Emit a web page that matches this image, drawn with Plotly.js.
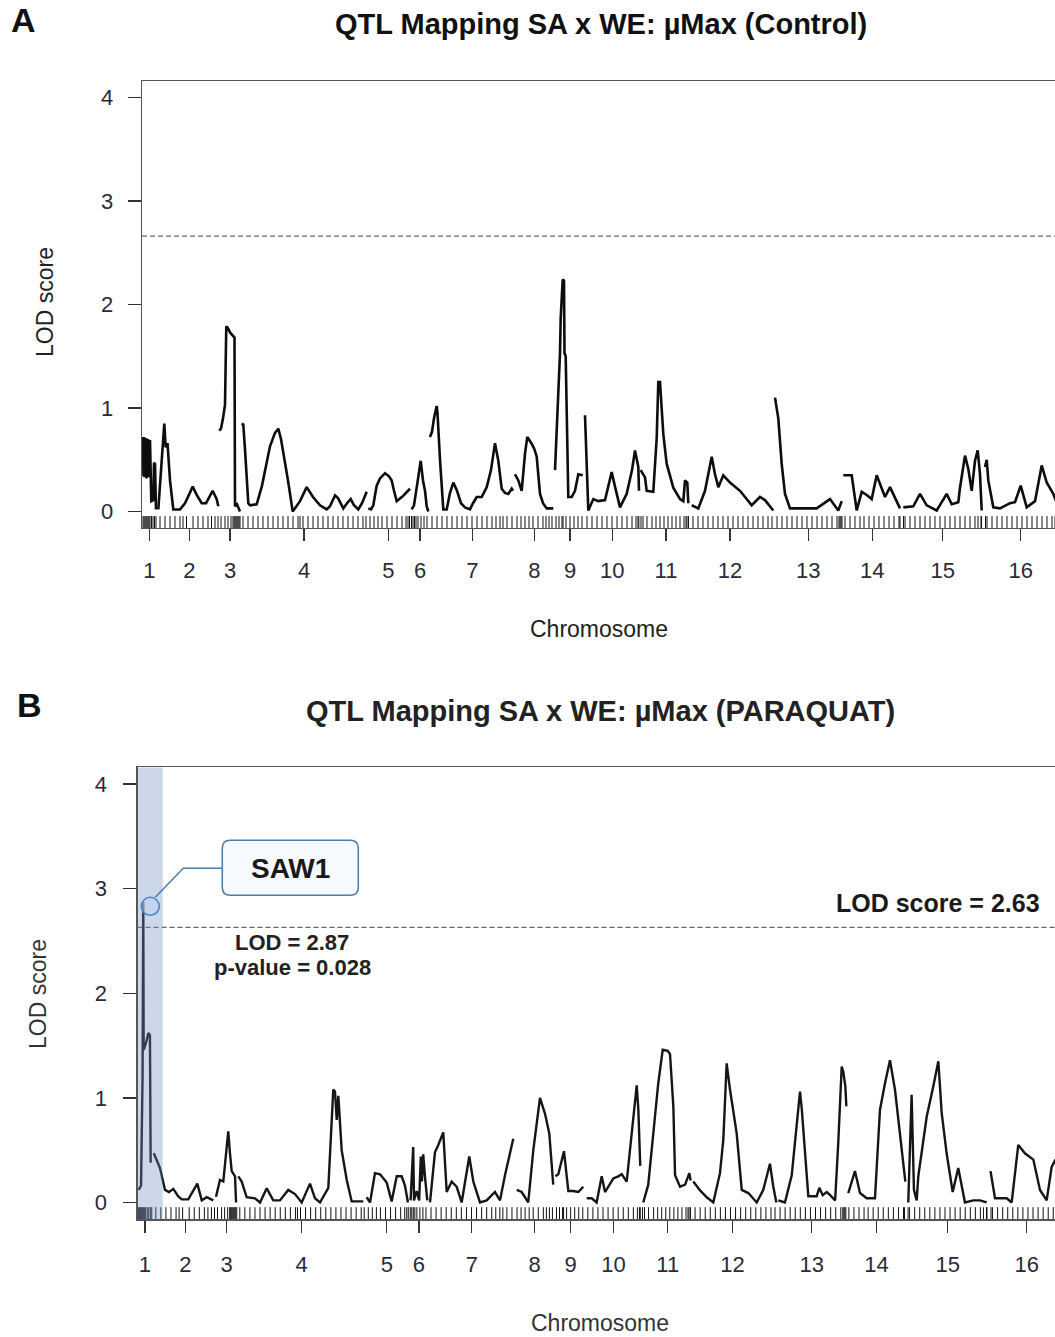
<!DOCTYPE html>
<html>
<head>
<meta charset="utf-8">
<script src="https://cdn.plot.ly/plotly-3.0.1.min.js"></script>
<style>
  html, body { margin: 0; padding: 0; background: #fff; overflow: hidden; }
  #qtl { width: 1100px; height: 1337px; }
</style>
</head>
<body>
<div id="qtl"></div>
<script>
// Chromosome labels and their tick positions (genome position, cM-like units)
const chrLabels = ['1','2','3','4','5','6','7','8','9','10','11','12','13','14','15','16'];
const chrTicks  = [7.3, 47.3, 88, 162, 246.3, 278, 330.3, 392.3, 428, 470.3, 524, 588, 666.3, 730.3, 800.7, 878.7];

// Genotyped marker positions (rug)
const markerPos = [
  1, 2, 3, 4, 5, 6, 7, 8, 9.5, 11, 12.5, 14,
  18, 23, 28, 33, 38, 41, 44.5, 51, 56, 61, 66, 69.5, 73, 76,
  79, 83, 86, 89, 91, 92, 93, 94, 95, 96, 97, 98,
  101, 106, 111, 116, 121, 126, 131, 136, 141, 146, 151, 156, 158, 161, 166, 171, 176, 181, 186, 191, 196, 201, 206, 211, 216, 221, 224,
  228, 232, 236, 240, 245, 250, 255, 260, 264, 266, 267.5,
  269.5, 271, 272.5, 274, 276, 279, 282, 285,
  290, 295, 300, 305, 310, 315, 320, 325, 330, 335, 340, 345, 350, 354, 358, 361, 365, 370,
  375, 379, 383, 387, 391, 396, 401, 404, 407, 410,
  414, 417, 420, 421, 424, 428, 432, 436, 440,
  445, 450, 455, 460, 465, 470, 475, 480, 485, 490, 494, 496, 496.8,
  499, 501, 505, 510, 514, 518, 522, 526, 530, 534, 538, 542, 544, 545, 546.5,
  551, 556, 561, 566, 571, 576, 581, 586, 591, 596, 601, 606, 611, 616, 621, 626, 630,
  635, 640, 645, 650, 655, 660, 665, 670, 675, 680, 685, 690, 695, 697, 698, 699, 700,
  703, 708, 713, 718, 722, 727, 732, 737, 742, 747, 752, 757, 758,
  761.5, 763, 768, 773, 778, 783, 788, 793, 798, 803, 808, 813, 818, 823, 828, 833, 836, 839, 839.5,
  843.5, 845, 850, 855, 860, 865, 870, 875, 880, 885, 890, 895, 900, 905, 910, 913
];

// LOD profile, control condition (one array per chromosome)
const ctrlPos = [
  [1, 1.5, 2, 2.5, 3, 3.5, 4, 4.5, 5, 5.5, 6, 6.5, 7, 7.5, 8, 8.5, 9.3, 11.3, 12, 13, 14],
  [16.3, 19.7, 22.3, 23.7, 25.5, 28, 31.3, 38, 43, 50.7, 54.7, 59.7, 64, 70.7, 74.7, 76.3],
  [77.3, 79, 81, 83, 83.7, 84.3, 86, 88, 92.5, 93, 95, 97, 98],
  [99.7, 101.3, 103, 106.3, 108, 114.7, 120, 124, 128, 133, 136.3, 139, 141.3, 146, 150.7, 158, 164.7, 171, 178, 184.7, 188, 193, 196, 201.3, 205, 208.7, 212, 216.3, 220, 224.7],
  [226.3, 229, 231.3, 234.7, 238, 243, 247, 249.7, 252, 254.7, 261, 268],
  [269.7, 272, 275, 278.7, 281, 283, 284.7, 286.3],
  [288, 290, 292, 294.7, 295.5, 296.5, 298, 301.3, 304.7, 308, 311.3, 315, 319, 323, 328, 331, 334.7, 339.7, 344.7, 349, 353, 356.3, 359.7, 363, 366.3, 369.7, 371],
  [373, 376.3, 379.7, 383, 385.3, 389.7, 392.5, 394.7, 398, 401, 404.7, 411.3],
  [413, 416.3, 418, 418.7, 420.7, 422, 422.5, 423.7, 424.7, 426.3, 429.7, 433, 436.3, 440.7],
  [443, 444.7, 446.3, 451.3, 456.3, 463, 469.7, 473, 478, 484.7, 490, 493, 496.3, 497],
  [498.7, 503, 504.7, 511.3, 514.7, 516.3, 518, 519.7, 521.3, 524.7, 531.3, 538, 541.3, 543, 545.3, 546.3],
  [549.7, 556.3, 563, 569.7, 573, 576.3, 581.3, 588, 598, 609.7, 618, 623, 631.3],
  [633, 636.3, 639.7, 643, 648, 674.7, 688, 693, 696.3, 699.7],
  [701.3, 709.7, 714.7, 719.7, 724.7, 729.7, 734.7, 739.7, 743, 748, 751.3, 758],
  [761.3, 771.3, 778, 784.7, 794.7, 804.7, 809.7, 816.3, 818, 823, 826.3, 829.7, 833, 835.7, 838, 839.7],
  [843, 844.7, 846.3, 851.3, 858, 868, 873, 878.7, 884.7, 893, 899.7, 904.7, 911.3, 914]
];
const ctrlLod = [
  [0.72, 0.34, 0.72, 0.33, 0.71, 0.35, 0.71, 0.32, 0.70, 0.36, 0.70, 0.33, 0.69, 0.35, 0.69, 0.30, 0.10, 0.11, 0.47, 0.46, 0.02],
  [0.02, 0.5, 0.85, 0.62, 0.66, 0.3, 0.02, 0.02, 0.08, 0.24, 0.16, 0.08, 0.08, 0.2, 0.12, 0.05],
  [0.78, 0.8, 0.9, 1.03, 1.45, 1.79, 1.77, 1.73, 1.68, 0.05, 0.07, 0.02, 0.0],
  [0.85, 0.84, 0.6, 0.08, 0.06, 0.07, 0.25, 0.45, 0.63, 0.76, 0.80, 0.7, 0.58, 0.3, 0.0, 0.1, 0.235, 0.14, 0.06, 0.02, 0.05, 0.155, 0.13, 0.03, 0.08, 0.12, 0.06, 0.02, 0.08, 0.19],
  [0.03, 0.02, 0.06, 0.25, 0.32, 0.37, 0.34, 0.3, 0.2, 0.1, 0.15, 0.22],
  [0.02, 0.06, 0.25, 0.49, 0.3, 0.2, 0.05, 0.0],
  [0.72, 0.77, 0.9, 1.02, 0.95, 0.7, 0.5, 0.02, 0.02, 0.18, 0.28, 0.2, 0.08, 0.04, 0.02, 0.08, 0.14, 0.14, 0.235, 0.4, 0.66, 0.49, 0.22, 0.18, 0.17, 0.22, 0.2],
  [0.36, 0.3, 0.2, 0.56, 0.72, 0.655, 0.6, 0.53, 0.17, 0.08, 0.03, 0.03],
  [0.4, 1.14, 1.53, 1.87, 2.24, 2.23, 1.53, 1.5, 0.85, 0.14, 0.14, 0.2, 0.36, 0.35],
  [0.93, 0.5, 0.01, 0.12, 0.1, 0.11, 0.38, 0.24, 0.04, 0.17, 0.4, 0.59, 0.43, 0.2],
  [0.4, 0.33, 0.2, 0.19, 0.71, 1.25, 1.25, 1.0, 0.75, 0.46, 0.23, 0.12, 0.1, 0.3, 0.28, 0.08],
  [0.06, 0.03, 0.2, 0.53, 0.36, 0.235, 0.35, 0.28, 0.2, 0.06, 0.14, 0.11, 0.01],
  [1.1, 0.9, 0.46, 0.17, 0.03, 0.03, 0.12, 0.06, 0.01, 0.1],
  [0.35, 0.35, 0.01, 0.19, 0.16, 0.12, 0.35, 0.22, 0.14, 0.235, 0.17, 0.03],
  [0.04, 0.05, 0.17, 0.06, 0.01, 0.17, 0.07, 0.09, 0.23, 0.54, 0.41, 0.2, 0.49, 0.59, 0.36, 0.01],
  [0.43, 0.5, 0.3, 0.04, 0.03, 0.08, 0.09, 0.25, 0.04, 0.1, 0.445, 0.28, 0.17, 0.1]
];

// LOD profile, paraquat condition (one array per chromosome)
const pqPos = [
  [1, 3.4, 4.9, 5.6, 6.0, 7.4, 9.0, 10.6, 12.2, 12.9],
  [16, 17.2, 22.1, 27.1, 31, 35.3, 40, 43.6, 50.1, 59, 63.4, 68.3, 74.8],
  [77.5, 81.4, 84.7, 88.1, 89.6, 91.3, 93, 96.3, 97.3],
  [99.5, 102.9, 107.8, 116, 121, 127.6, 134.1, 140.7, 148.9, 155.6, 162.2, 170.4, 175.3, 180.3, 188.5, 193.4, 195.1, 196.8, 198.4, 201.7, 206.7, 211.6, 223.1],
  [226.4, 229.7, 234.6, 239.6, 246.2, 251.1, 256.1, 261, 264.3, 267.2],
  [269.8, 271.3, 272.4, 273.2, 275.8, 278.3, 279.9, 281, 282.3, 284, 286.3],
  [289, 293.9, 297.2, 302.1, 305.5, 310.4, 315.4, 320.3, 327.8, 331.8, 338.4, 345, 353.2, 358.2, 363.1, 371.3],
  [374.7, 379.6, 386.1, 391.1, 397.7, 402.6, 406.9, 410.8],
  [413, 415.8, 421.4, 425.7, 430.6, 435.6, 440.5],
  [443.9, 448.8, 453.7, 458.7, 462, 465.2, 470.2, 475.1, 478.5, 483.4, 489.9, 493.3, 494.9, 496.8],
  [499.8, 504.7, 509.7, 514.6, 519, 523.9, 526.2, 529.5, 531.2, 536.1, 541.1, 545.3, 546.6],
  [549.2, 555.5, 562.5, 569, 575.6, 578.9, 582.2, 585.5, 592.1, 597.1, 603.6, 611.9, 618.4, 625, 628.3, 631.3],
  [633.2, 639.8, 646.5, 654.7, 656.4, 662.9, 671.2, 673.8, 677.1, 681.1, 684.5, 689.4, 692.5, 695.9, 697.5, 699.5, 700.5],
  [702.4, 709, 714, 720.6, 728.8, 733.7, 738.7, 743.6, 748.6, 753.5, 758.8],
  [761.7, 765, 767.3, 770, 771.6, 779.9, 786.4, 791.4, 794.7, 799.6, 805.6, 811.1, 817.7, 826, 832.6, 839.2],
  [843, 847.4, 852.3, 859, 863.9, 870.4, 877, 885.3, 891.9, 898.5, 903.4, 906.7, 913.6]
];
const pqLod = [
  [0.12, 0.16, 1.2, 2.87, 1.46, 1.5, 1.55, 1.62, 1.6, 0.38],
  [0.47, 0.44, 0.33, 0.12, 0.1, 0.13, 0.06, 0.03, 0.03, 0.18, 0.02, 0.05, 0.02],
  [0.055, 0.215, 0.2, 0.53, 0.68, 0.47, 0.3, 0.25, 0.0],
  [0.25, 0.2, 0.05, 0.04, 0.0, 0.135, 0.02, 0.02, 0.12, 0.08, 0.0, 0.18, 0.04, 0.0, 0.14, 1.08, 1.06, 0.79, 1.02, 0.5, 0.215, 0.01, 0.01],
  [0.05, 0.0, 0.28, 0.27, 0.19, 0.01, 0.25, 0.25, 0.16, 0.0],
  [0.02, 0.3, 0.53, 0.02, 0.11, 0.02, 0.44, 0.2, 0.46, 0.25, 0.02],
  [0.0, 0.48, 0.55, 0.67, 0.1, 0.2, 0.15, 0.0, 0.44, 0.2, 0.0, 0.02, 0.1, 0.02, 0.26, 0.61],
  [0.12, 0.1, 0.0, 0.5, 1.0, 0.85, 0.66, 0.17],
  [0.25, 0.27, 0.49, 0.11, 0.11, 0.1, 0.15],
  [0.04, 0.04, 0.0, 0.25, 0.1, 0.15, 0.23, 0.25, 0.27, 0.2, 0.85, 1.12, 0.89, 0.35],
  [0.0, 0.17, 0.66, 1.14, 1.46, 1.45, 1.42, 0.92, 0.26, 0.15, 0.17, 0.28, 0.21],
  [0.2, 0.12, 0.05, 0.0, 0.28, 0.6, 1.33, 1.08, 0.66, 0.12, 0.09, 0.0, 0.12, 0.37, 0.15, 0.0],
  [0.02, 0.0, 0.26, 1.06, 0.9, 0.06, 0.06, 0.14, 0.07, 0.1, 0.07, 0.02, 0.57, 1.3, 1.25, 1.11, 0.92],
  [0.09, 0.3, 0.09, 0.04, 0.04, 0.885, 1.14, 1.36, 1.075, 0.66, 0.2],
  [0.0, 1.03, 0.12, 0.02, 0.25, 0.82, 1.11, 1.35, 0.86, 0.47, 0.1, 0.33, 0.0, 0.02, 0.02, 0.0],
  [0.3, 0.04, 0.04, 0.04, 0.0, 0.55, 0.47, 0.41, 0.12, 0.02, 0.34, 0.4, 0.35]
];

// Significance thresholds (permutation) and the SAW1 locus
const thrControl  = 2.66;
const thrParaquat = 2.63;
const saw1Region  = [0, 24.8];
const saw1Label   = 'SAW1';
const saw1PValue  = '0.028';

// ---------------------------------------------------------------------
const FONT = 'Liberation Sans, Arial, Helvetica, sans-serif';
const W = 1100, H = 1337;
const px = v => v / W;          // horizontal pixel -> paper fraction
const py = v => 1 - v / H;      // vertical pixel -> paper fraction

function joinChroms(posList, lodList) {
  const x = [], y = [];
  posList.forEach((p, i) => {
    p.forEach((v, j) => { x.push(v); y.push(lodList[i][j]); });
    x.push(null); y.push(null);
  });
  return { x, y };
}

const ctrl = joinChroms(ctrlPos, ctrlLod);
const pq = joinChroms(pqPos, pqLod);

// strongest paraquat peak
let peakX = null, peakY = -Infinity;
pqPos.forEach((p, i) => p.forEach((v, j) => {
  if (pqLod[i][j] > peakY) { peakY = pqLod[i][j]; peakX = v; }
}));

const rugY = -0.112;
const rugMarker = { symbol: 'line-ns-open', size: 10, color: '#111', line: { width: 1, color: '#111' } };

const traces = [
  { x: ctrl.x, y: ctrl.y, xaxis: 'x', yaxis: 'y', type: 'scatter', mode: 'lines',
    line: { color: '#0d0d0d', width: 2.6 }, connectgaps: false, hoverinfo: 'skip' },
  { x: markerPos, y: markerPos.map(() => rugY), xaxis: 'x', yaxis: 'y', type: 'scatter', mode: 'markers',
    marker: rugMarker, hoverinfo: 'skip' },
  { x: pq.x, y: pq.y, xaxis: 'x2', yaxis: 'y2', type: 'scatter', mode: 'lines',
    line: { color: '#151515', width: 2.4 }, connectgaps: false, hoverinfo: 'skip' },
  { x: markerPos, y: markerPos.map(() => rugY), xaxis: 'x2', yaxis: 'y2', type: 'scatter', mode: 'markers',
    marker: rugMarker, hoverinfo: 'skip' }
];

function xAxis(domain, anchor, standoff) {
  return {
    domain: domain, anchor: anchor, range: [0, 925],
    tickmode: 'array', tickvals: chrTicks, ticktext: chrLabels,
    ticks: 'outside', ticklen: 12, tickwidth: 1.3, tickcolor: '#333',
    ticklabelstandoff: standoff,
    tickfont: { family: FONT, size: 22, color: '#2a2a3a' },
    showline: true, mirror: true, linecolor: '#555', linewidth: 1.3,
    showgrid: false, zeroline: false, fixedrange: true
  };
}
function yAxis(domain, anchor, standoff) {
  return {
    domain: domain, anchor: anchor, range: [-0.16, 4.16],
    tickmode: 'array', tickvals: [0, 1, 2, 3, 4],
    ticks: 'outside', ticklen: 13, tickwidth: 1.3, tickcolor: '#333',
    ticklabelstandoff: standoff,
    tickfont: { family: FONT, size: 22, color: '#2a2a3a' },
    showline: true, mirror: true, linecolor: '#555', linewidth: 1.3,
    showgrid: false, zeroline: false, fixedrange: true
  };
}

const dashLine = { color: '#666', width: 1.3, dash: '5px,3px' };
const calloutBlue = '#4c7eab';

const shapes = [
  { type: 'line', xref: 'x domain', x0: 0, x1: 1, yref: 'y', y0: thrControl, y1: thrControl, line: dashLine },
  { type: 'line', xref: 'x2 domain', x0: 0, x1: 1, yref: 'y2', y0: thrParaquat, y1: thrParaquat, line: dashLine },
  // highlighted SAW1 interval
  { type: 'rect', xref: 'x2', x0: saw1Region[0], x1: saw1Region[1], yref: 'y2 domain', y0: 0, y1: 1,
    fillcolor: 'rgba(110,140,195,0.35)', line: { width: 0 }, layer: 'above' },
  // ring around the peak
  { type: 'circle', xref: 'x2', yref: 'y2', xsizemode: 'pixel', ysizemode: 'pixel',
    xanchor: peakX, yanchor: peakY, x0: -2, x1: 16, y0: -13, y1: 5,
    fillcolor: 'rgba(185,210,238,0.5)', line: { color: '#4f86c0', width: 1.6 }, layer: 'above' },
  // leader from the ring to the label box
  { type: 'path', xref: 'x2', yref: 'y2', xsizemode: 'pixel', ysizemode: 'pixel',
    xanchor: peakX, yanchor: peakY, path: 'M 12,5 L 40,34 L 79,34',
    line: { color: calloutBlue, width: 1.5 }, layer: 'above' },
  // rounded label box
  { type: 'path', xref: 'x2', yref: 'y2', xsizemode: 'pixel', ysizemode: 'pixel',
    xanchor: peakX, yanchor: peakY,
    path: 'M 87,7 L 207,7 Q 215,7 215,15 L 215,54 Q 215,62 207,62 L 87,62 Q 79,62 79,54 L 79,15 Q 79,7 87,7 Z',
    fillcolor: '#f7fafd', line: { color: calloutBlue, width: 1.6 }, layer: 'above' }
];

const ann = (o) => Object.assign({ showarrow: false, xanchor: 'center', yanchor: 'middle' }, o);
const annotations = [
  ann({ xref: 'paper', yref: 'paper', x: px(23), y: py(20), text: '<b>A</b>',
        font: { family: FONT, size: 34, color: '#111' } }),
  ann({ xref: 'paper', yref: 'paper', x: px(29), y: py(705), text: '<b>B</b>',
        font: { family: FONT, size: 34, color: '#111' } }),
  ann({ xref: 'paper', yref: 'paper', x: px(601), y: py(24),
        text: '<b>QTL Mapping SA x WE: µMax (Control)</b>',
        font: { family: FONT, size: 29, color: '#111' } }),
  ann({ xref: 'paper', yref: 'paper', x: px(600), y: py(711),
        text: '<b>QTL Mapping SA x WE: µMax (PARAQUAT)</b>',
        font: { family: FONT, size: 29, color: '#222' } }),
  ann({ xref: 'paper', yref: 'paper', x: px(599), y: py(629), text: 'Chromosome',
        font: { family: FONT, size: 23, color: '#222' } }),
  ann({ xref: 'paper', yref: 'paper', x: px(600), y: py(1323), text: 'Chromosome',
        font: { family: FONT, size: 23, color: '#333' } }),
  ann({ xref: 'paper', yref: 'paper', x: px(45), y: py(302), text: 'LOD score', textangle: -90,
        font: { family: FONT, size: 23, color: '#222' } }),
  ann({ xref: 'paper', yref: 'paper', x: px(38), y: py(994), text: 'LOD score', textangle: -90,
        font: { family: FONT, size: 23, color: '#333' } }),
  // callout text
  ann({ xref: 'x2', yref: 'y2', x: peakX, y: peakY, xshift: 147, yshift: 34,
        text: '<b>' + saw1Label + '</b>', font: { family: FONT, size: 28, color: '#1a1a1a' } }),
  ann({ xref: 'x2', yref: 'y2', x: peakX, y: peakY, xshift: 149, yshift: -40,
        text: '<b>LOD = ' + peakY.toFixed(2) + '</b>', font: { family: FONT, size: 22, color: '#222' } }),
  ann({ xref: 'x2', yref: 'y2', x: peakX, y: peakY, xshift: 149, yshift: -65,
        text: '<b>p-value = ' + saw1PValue + '</b>', font: { family: FONT, size: 22, color: '#222' } }),
  // threshold label
  ann({ xref: 'paper', yref: 'y2', x: px(1042), y: thrParaquat, xanchor: 'right', yanchor: 'bottom', yshift: 8,
        text: '<b>LOD score = ' + thrParaquat.toFixed(2) + '</b>', font: { family: FONT, size: 25, color: '#1a1a1a' } })
];

const layout = {
  width: W, height: H,
  margin: { l: 0, r: 0, t: 0, b: 0 },
  paper_bgcolor: '#fff', plot_bgcolor: '#fff',
  showlegend: false,
  font: { family: FONT },
  xaxis: xAxis([px(142), px(1067)], 'y', 10),
  yaxis: yAxis([py(528.06), py(80.9)], 'x', 10),
  xaxis2: xAxis([px(137.6), px(1073.5)], 'y2', 13),
  yaxis2: yAxis([py(1219.2), py(767.4)], 'x2', 12),
  shapes: shapes,
  annotations: annotations
};

Plotly.newPlot('qtl', traces, layout, { staticPlot: true, displayModeBar: false });
</script>
</body>
</html>
